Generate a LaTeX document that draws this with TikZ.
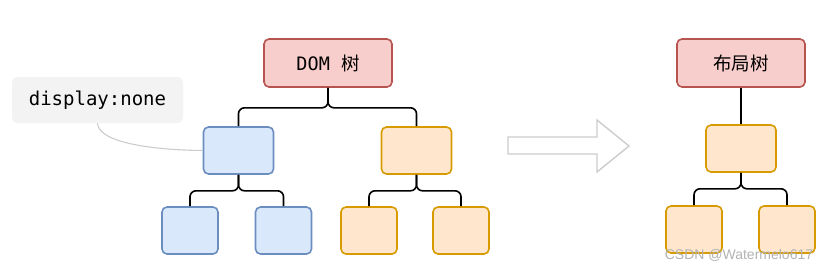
\documentclass[tikz,border=0pt]{standalone}
\usepackage{fontspec}
\setmonofont{DejaVu Sans Mono}
\newfontfamily\cjk{Noto Sans CJK SC}
\newfontfamily\wmfont{Liberation Sans}
\definecolor{rootfill}{HTML}{F8CECC}
\definecolor{rootline}{HTML}{B85450}
\definecolor{bluefill}{HTML}{DAE8FC}
\definecolor{blueline}{HTML}{6C8EBF}
\definecolor{orangefill}{HTML}{FFE6CC}
\definecolor{orangeline}{HTML}{D79B00}
\definecolor{notefill}{HTML}{F3F3F3}
\definecolor{softgray}{HTML}{CCCCCC}
\begin{document}
\begin{tikzpicture}[x=1pt,y=-1pt,
  box/.style={rounded corners=5pt,line width=1.6pt,inner sep=0pt},
  rootbox/.style={box,draw=rootline,fill=rootfill,minimum width=128pt,minimum height=48pt,font=\fontsize{18.5}{22}\selectfont},
  bluebox/.style={box,draw=blueline,fill=bluefill},
  orangebox/.style={box,draw=orangeline,fill=orangefill},
  midbox/.style={minimum width=70pt,minimum height=47pt},
  leafbox/.style={minimum width=56pt,minimum height=47pt},
  link/.style={line width=1.6pt,rounded corners=6pt}]
\useasboundingbox (0,0) rectangle (833,271);
% DOM tree
\node[rootbox] (dom) at (328,63) {\ttfamily DOM {\cjk 树}};
\node[bluebox,midbox] (hidden) at (238.5,150.5) {};
\node[orangebox,midbox] (shown) at (416.5,150.5) {};
\node[bluebox,leafbox] (hiddenA) at (190,230.5) {};
\node[bluebox,leafbox] (hiddenB) at (283.5,230.5) {};
\node[orangebox,leafbox] (shownA) at (369,230.5) {};
\node[orangebox,leafbox] (shownB) at (461,230.5) {};
\draw[link] (dom.south) -- ++(0,20) -| (hidden.north);
\draw[link] (dom.south) -- ++(0,20) -| (shown.north);
\draw[link] (hidden.south) -- ++(0,16) -| (hiddenA.north);
\draw[link] (hidden.south) -- ++(0,16) -| (hiddenB.north);
\draw[link] (shown.south) -- ++(0,16) -| (shownA.north);
\draw[link] (shown.south) -- ++(0,16) -| (shownB.north);
% note
\node[fill=notefill,rounded corners=5pt,minimum width=171pt,minimum height=46pt,font=\ttfamily\fontsize{19}{22}\selectfont] (note) at (97.5,100) {display:none};
\draw[softgray,line width=1.1pt] (note.south) .. controls (98,142) and (150,150) .. (hidden.west);
% arrow
\draw[softgray,line width=1.4pt] (508,137) -- (597,137) -- (597,120) -- (629,146) -- (597,172) -- (597,154) -- (508,154) -- cycle;
% layout tree
\node[rootbox] (layout) at (741,63) {\cjk 布局树};
\node[orangebox,midbox] (lmid) at (741,148.5) {};
\node[orangebox,leafbox] (lleafA) at (694,229.5) {};
\node[orangebox,leafbox] (lleafB) at (787,229.5) {};
\draw[link] (layout.south) -- (lmid.north);
\draw[link] (lmid.south) -- ++(0,16) -| (lleafA.north);
\draw[link] (lmid.south) -- ++(0,16) -| (lleafB.north);
\node[font=\wmfont\fontsize{14}{16}\selectfont,text=black!30] (mark) at (739,255) {CSDN @Watermelo617};
\end{tikzpicture}
\end{document}
